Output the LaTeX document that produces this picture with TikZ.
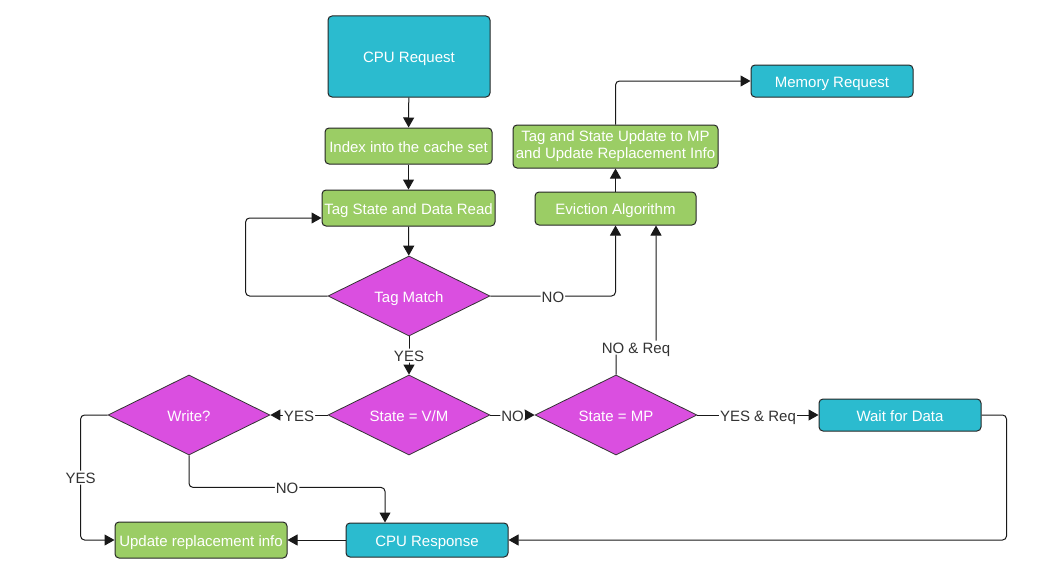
\documentclass[tikz,border=0pt]{standalone}
\usepackage{fontspec}
\setmainfont{Liberation Sans}
\usetikzlibrary{shapes.geometric,arrows.meta}
\definecolor{tealc}{HTML}{2BBBCF}
\definecolor{greenc}{HTML}{9BCD65}
\definecolor{magc}{HTML}{DA4FE0}
\begin{document}
\begin{tikzpicture}[x=1pt,y=-1pt,
 box/.style={draw=black!85, line width=1pt, rounded corners=4pt, text=white, inner sep=0pt, font=\fontsize{15}{17}\selectfont, align=center},
 oneline/.style={text height=12pt, text depth=0pt},
 tealbox/.style={box, fill=tealc, oneline},
 greenbox/.style={box, fill=greenc, oneline},
 greenbox2/.style={box, fill=greenc},
 dec/.style={diamond, draw=black!80, line width=0.8pt, fill=magc, text=white, inner sep=0pt, minimum width=162pt, minimum height=80pt, aspect=2, font=\fontsize{15}{17}\selectfont, oneline},
 conn/.style={draw=black!90, line width=1pt, rounded corners=4pt, -{Triangle[length=10pt,width=11pt]}},
 lbl/.style={fill=white, text=black!80, inner sep=1pt, font=\fontsize{15}{17}\selectfont, oneline}
]
\useasboundingbox (0,0) rectangle (1056,578);

\node[tealbox, minimum width=162pt, minimum height=81pt] (cpureq) at (409,56.5) {CPU Request};
\node[greenbox, minimum width=167pt, minimum height=36pt] (index) at (408.5,146) {Index into the cache set};
\node[greenbox, minimum width=173pt, minimum height=36pt] (tsread) at (408.5,208) {Tag State and Data Read};
\node[dec] (tagm) at (409,296) {Tag Match};
\node[dec] (vm) at (409,415) {State = V/M};
\node[dec] (write) at (189,415) {Write?};
\node[dec] (mp) at (616,415) {State = MP};
\node[tealbox, minimum width=162pt, minimum height=32pt] (wait) at (900,415) {Wait for Data};
\node[tealbox, minimum width=162pt, minimum height=34pt] (cpuresp) at (427,540) {CPU Response};
\node[greenbox, minimum width=172pt, minimum height=36pt] (upd) at (201,540) {Update replacement info};
\node[greenbox, minimum width=161pt, minimum height=33pt] (evict) at (615.5,208.5) {Eviction Algorithm};
\node[greenbox2, minimum width=205pt, minimum height=43pt] (tsu) at (615.5,146.5) {\raisebox{-2pt}{Tag and State Update to MP}\\\raisebox{-2pt}{and Update Replacement Info}};
\node[tealbox, minimum width=162pt, minimum height=32pt] (memreq) at (832,81) {Memory Request};

\draw[conn] (cpureq) -- (index);
\draw[conn] (index) -- (tsread);
\draw[conn] (tsread) -- (tagm);
\draw[conn] (tagm.west) -- ++(-82,0) |- ([yshift=-10pt]tsread.west);
\draw[conn] (tagm.south) -- node[lbl]{YES} (vm.north);
\draw[conn] (vm.west) -- node[lbl]{YES} (write.east);
\draw[conn] (vm.east) -- node[lbl]{NO} (mp.west);
\draw[conn] (mp.east) -- node[lbl]{YES \& Req} (wait.west);
\draw[conn] (wait.east) -- ++(25,0) |- (cpuresp.east);
\draw[conn] (cpuresp.west) -- (upd.east);
\draw[conn] (write.west) -- ++(-27,0) |- node[lbl,pos=0.25]{YES} (upd.west);
\draw[conn] (write.south) -- ++(0,32) -| node[lbl,pos=0.25]{NO} ([xshift=-42pt]cpuresp.north);
\draw[conn] (tagm.east) -| node[lbl,pos=0.25]{NO} (evict.south);
\draw[conn] (mp.north) -- ++(0,-27) -| node[lbl,pos=0.25]{NO \& Req} ([xshift=40.5pt]evict.south);
\draw[conn] (evict) -- (tsu);
\draw[conn] (tsu.north) |- (memreq.west);
\end{tikzpicture}
\end{document}
